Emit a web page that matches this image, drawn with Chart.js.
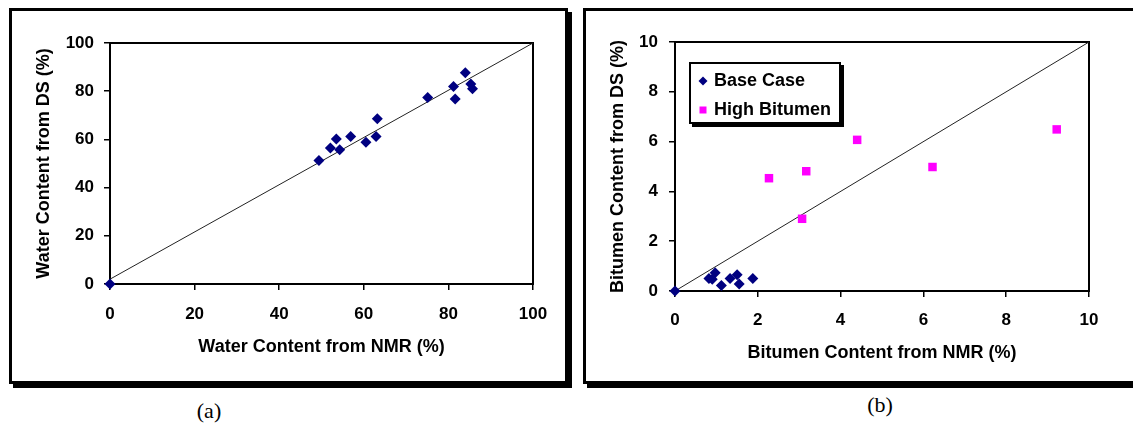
<!DOCTYPE html>
<html>
<head>
<meta charset="utf-8">
<script src="https://cdn.jsdelivr.net/npm/chart.js@4"></script>
<style>
  body { margin: 0; background: #fff; width: 1133px; height: 426px; overflow: hidden; position: relative; }
  .panel { position: absolute; top: 8px; height: 370px; border: 3px solid #000; box-shadow: 4px 4px 0 #000; background: #fff; }
  #boxA { left: 9px; width: 553px; }
  #boxB { left: 583px; width: 560px; }
  .panel canvas { position: absolute; left: 0; top: 0; }
  .cap { position: absolute; font-family: "Liberation Serif", "Times New Roman", serif; font-size: 22px; color: #000; transform: translate(-50%, -50%); }
</style>
</head>
<body>
<div class="panel" id="boxA"><canvas id="waterChart" width="553" height="370"></canvas></div>
<div class="panel" id="boxB"><canvas id="bitumenChart" width="547" height="370"></canvas></div>
<div class="cap" style="left:209px; top:411px;">(a)</div>
<div class="cap" style="left:880px; top:405px;">(b)</div>

<script>
// panel (a): water content
const waterNMR = [0, 49.4, 52.1, 53.5, 54.3, 56.9, 60.5, 62.9, 63.2, 75.1, 81.2, 81.6, 84.0, 85.3, 85.7];
const waterDS = [0, 51.2, 56.4, 60.2, 55.7, 61.2, 58.8, 61.2, 68.6, 77.4, 81.9, 76.8, 87.7, 83.0, 81.0];
const waterLineX = [0, 100];
const waterLineY = [2, 100];
const waterTicks = [0, 20, 40, 60, 80, 100];

// panel (b): bitumen content
const baseNMR = [0, 0.82, 0.9, 0.97, 1.12, 1.33, 1.5, 1.55, 1.88];
const baseDS = [0, 0.5, 0.47, 0.73, 0.22, 0.5, 0.65, 0.28, 0.5];
const highNMR = [2.27, 3.07, 3.17, 4.4, 6.22, 9.22];
const highDS = [4.53, 2.9, 4.81, 6.07, 4.98, 6.49];
const bitLineX = [0, 10];
const bitLineY = [0, 10];
const bitTicks = [0, 2, 4, 6, 8, 10];

const seriesNames = ['Base Case', 'High Bitumen'];

const FONT = '"Liberation Sans", Arial, sans-serif';
const NAVY = '#000080';
const MAGENTA = '#ff00ff';

function pts(xs, ys) {
  return xs.map((x, i) => ({ x: x, y: ys[i] }));
}

// black frame round the plot area
const frame = {
  id: 'frame',
  beforeDatasetsDraw(chart) {
    const { ctx, chartArea: a } = chart;
    ctx.save();
    ctx.strokeStyle = '#000';
    ctx.lineWidth = 2;
    ctx.strokeRect(a.left, a.top, a.right - a.left, a.bottom - a.top);
    ctx.restore();
  }
};

// excel style boxed legend with shadow, inside the plot area
const boxLegend = {
  id: 'boxLegend',
  afterDatasetsDraw(chart) {
    const { ctx, chartArea: a } = chart;
    const x = a.left + 14, y = a.top + 20, w = 152, h = 62;
    ctx.save();
    ctx.fillStyle = '#000';
    ctx.fillRect(x + 3, y + 3, w, h);
    ctx.fillStyle = '#fff';
    ctx.fillRect(x, y, w, h);
    ctx.strokeStyle = '#000';
    ctx.lineWidth = 2;
    ctx.strokeRect(x + 1, y + 1, w - 2, h - 2);
    const items = chart.data.datasets.filter(d => d.inLegend);
    items.forEach((d, i) => {
      const cx = x + 14, cy = y + 19 + i * 29;
      ctx.fillStyle = d.backgroundColor;
      ctx.beginPath();
      if (d.pointStyle === 'rectRot') {
        ctx.moveTo(cx, cy - 4.5); ctx.lineTo(cx + 4.5, cy); ctx.lineTo(cx, cy + 4.5); ctx.lineTo(cx - 4.5, cy);
      } else {
        ctx.rect(cx - 3.5, cy - 3.5, 7, 7);
      }
      ctx.closePath();
      ctx.fill();
      ctx.fillStyle = '#000';
      ctx.font = 'bold 18px ' + FONT;
      ctx.textBaseline = 'middle';
      ctx.textAlign = 'left';
      ctx.fillText(d.label, x + 25, cy);
    });
    ctx.restore();
  }
};

function axis(ticks, title, fitSize, horizontal, titlePad, tickPad) {
  return {
    type: 'linear',
    min: ticks[0],
    max: ticks[ticks.length - 1],
    afterBuildTicks(scale) { scale.ticks = ticks.map(v => ({ value: v })); },
    afterFit(scale) {
      if (horizontal) scale.height = fitSize; else scale.width = fitSize;
    },
    border: { display: false },
    grid: { display: true, drawOnChartArea: false, drawTicks: true, tickLength: 6, color: '#000', lineWidth: 1.5 },
    ticks: { color: '#000', padding: tickPad, font: { family: FONT, size: 17, weight: 'bold' } },
    title: {
      display: true, text: title, color: '#000',
      font: { family: FONT, size: 18, weight: 'bold' },
      padding: horizontal ? { top: 0, bottom: titlePad } : { top: titlePad, bottom: 0 }
    }
  };
}

Chart.defaults.animation = false;

new Chart(document.getElementById('waterChart'), {
  type: 'scatter',
  data: {
    datasets: [
      {
        label: 'Water', data: pts(waterNMR, waterDS), pointStyle: 'rectRot', pointRadius: 5.5,
        backgroundColor: NAVY, borderColor: NAVY, borderWidth: 0, clip: false
      },
      {
        label: 'line', data: pts(waterLineX, waterLineY), showLine: true, pointRadius: 0,
        borderColor: '#222', borderWidth: 1, clip: false
      }
    ]
  },
  options: {
    responsive: false,
    layout: { padding: { left: 0, top: 32, right: 32, bottom: 0 } },
    plugins: { legend: { display: false }, tooltip: { enabled: false } },
    scales: {
      x: axis(waterTicks, 'Water Content from NMR (%)', 97, true, 23, 14),
      y: axis(waterTicks, 'Water Content from DS (%)', 98, false, 21, 10)
    }
  },
  plugins: [frame]
});

new Chart(document.getElementById('bitumenChart'), {
  type: 'scatter',
  data: {
    datasets: [
      {
        label: seriesNames[0], inLegend: true, data: pts(baseNMR, baseDS), pointStyle: 'rectRot', pointRadius: 5.5,
        backgroundColor: NAVY, borderColor: NAVY, borderWidth: 0, clip: false
      },
      {
        label: seriesNames[1], inLegend: true, data: pts(highNMR, highDS), pointStyle: 'rect', pointRadius: 6,
        backgroundColor: MAGENTA, borderColor: MAGENTA, borderWidth: 0, clip: false
      },
      {
        label: 'line', data: pts(bitLineX, bitLineY), showLine: true, pointRadius: 0,
        borderColor: '#222', borderWidth: 1, clip: false
      }
    ]
  },
  options: {
    responsive: false,
    layout: { padding: { left: 0, top: 31, right: 44, bottom: 0 } },
    plugins: { legend: { display: false }, tooltip: { enabled: false } },
    scales: {
      x: axis(bitTicks, 'Bitumen Content from NMR (%)', 90, true, 17, 13),
      y: axis(bitTicks, 'Bitumen Content from DS (%)', 89, false, 21, 11)
    }
  },
  plugins: [frame, boxLegend]
});
</script>
</body>
</html>
